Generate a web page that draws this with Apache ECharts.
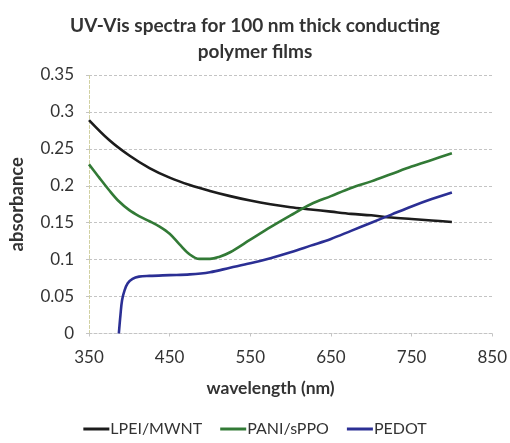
<!DOCTYPE html>
<html>
<head>
<meta charset="utf-8">
<script src="https://cdn.jsdelivr.net/npm/echarts@6/dist/echarts.min.js"></script>
<style>
  html, body { margin: 0; padding: 0; background: #fff; }
  #chart { width: 510px; height: 443px; }
</style>
</head>
<body>
<div id="chart"></div>
<script>
// Wavelength (nm) / absorbance pairs for each film
const lpeiWavelength = [350, 375, 400, 425, 450, 475, 500, 525, 550, 575, 600, 625, 650, 675, 700, 725, 750, 775, 800];
const lpeiAbsorbance = [0.289, 0.262, 0.241, 0.224, 0.211, 0.201, 0.193, 0.186, 0.180, 0.175, 0.171, 0.168, 0.165, 0.162, 0.160, 0.157, 0.155, 0.153, 0.151];

const paniWavelength = [350, 362, 375, 387, 400, 412, 425, 437, 450, 462, 475, 487, 500, 512, 525, 550, 575, 600, 625, 650, 675, 700, 725, 750, 775, 800];
const paniAbsorbance = [0.229, 0.212, 0.194, 0.179, 0.167, 0.159, 0.152, 0.145, 0.135, 0.121, 0.107, 0.101, 0.101, 0.104, 0.110, 0.127, 0.144, 0.160, 0.175, 0.186, 0.197, 0.206, 0.216, 0.226, 0.235, 0.244];

const pedotWavelength = [387, 389, 391, 394, 398, 404, 412, 425, 450, 475, 500, 525, 550, 575, 600, 625, 650, 675, 700, 725, 750, 775, 800];
const pedotAbsorbance = [0.000, 0.025, 0.045, 0.058, 0.068, 0.074, 0.077, 0.078, 0.079, 0.080, 0.083, 0.089, 0.095, 0.102, 0.110, 0.119, 0.128, 0.139, 0.150, 0.161, 0.172, 0.182, 0.191];

const xTicks = { min: 350, max: 850, step: 100 };
const yTicks = { min: 0, max: 0.35, step: 0.05 };

const seriesNames = ['LPEI/MWNT', 'PANI/sPPO', 'PEDOT'];
const seriesColors = ['#1c1c1c', '#327a36', '#2b2f94'];

function pairs(xs, ys) {
  return xs.map((x, i) => [x, ys[i]]);
}

const textColor = '#333333';
const fontFamily = 'Lato, "Open Sans", sans-serif';
const gridLine = { show: true, lineStyle: { color: '#c4c4c4', type: [3, 2], width: 1 } };

const chart = echarts.init(document.getElementById('chart'), null, { renderer: 'canvas' });

chart.setOption({
  animation: false,
  backgroundColor: '#ffffff',
  textStyle: { fontFamily: fontFamily, color: textColor },
  title: {
    text: 'UV-Vis spectra for 100 nm thick conducting\npolymer films',
    left: 'center',
    top: 8,
    textStyle: { fontFamily: fontFamily, fontWeight: 'bold', fontSize: 19, color: '#333333', lineHeight: 26 }
  },
  legend: {
    data: seriesNames.map(n => ({ name: n, icon: 'rect' })),
    bottom: 1,
    left: 'center',
    itemWidth: 26,
    itemHeight: 3,
    itemGap: 18,
    textStyle: { fontFamily: fontFamily, fontSize: 16, color: textColor, padding: [0, 0, 0, -4] }
  },
  grid: { left: 83, right: 15, top: 75, bottom: 109.5, containLabel: false },
  xAxis: {
    type: 'value',
    min: xTicks.min,
    max: xTicks.max,
    interval: xTicks.step,
    name: 'wavelength (nm)',
    nameLocation: 'middle',
    nameGap: 46,
    nameTextStyle: { fontFamily: fontFamily, fontWeight: 'bold', fontSize: 17.5, color: '#333333', padding: [0, 40, 0, 0] },
    axisLine: { show: true, onZero: false, lineStyle: { color: '#c4c4c4', type: [3, 2] } },
    axisTick: { show: true, length: 3, lineStyle: { color: '#c4c4c4' } },
    axisLabel: { fontSize: 17, color: textColor, margin: 16 },
    splitLine: { show: false }
  },
  yAxis: {
    type: 'value',
    min: yTicks.min,
    max: yTicks.max,
    interval: yTicks.step,
    name: 'absorbance',
    nameLocation: 'middle',
    nameGap: 62,
    nameRotate: 90,
    nameTextStyle: { fontFamily: fontFamily, fontWeight: 'bold', fontSize: 18.5, color: '#333333' },
    axisLine: { show: true, lineStyle: { color: '#d0d0a0', type: [3, 2] } },
    axisTick: { show: true, length: 3, lineStyle: { color: '#c4c4c4' } },
    axisLabel: { fontSize: 17, color: textColor, margin: 15 },
    splitLine: gridLine
  },
  series: [
    { name: seriesNames[0], data: pairs(lpeiWavelength, lpeiAbsorbance) },
    { name: seriesNames[1], data: pairs(paniWavelength, paniAbsorbance) },
    { name: seriesNames[2], data: pairs(pedotWavelength, pedotAbsorbance) }
  ].map((s, i) => ({
    name: s.name,
    type: 'line',
    data: s.data,
    smooth: 0.35,
    showSymbol: false,
    color: seriesColors[i],
    lineStyle: { width: 2.6, color: seriesColors[i] },
    z: 3 + i
  }))
});
</script>
</body>
</html>
